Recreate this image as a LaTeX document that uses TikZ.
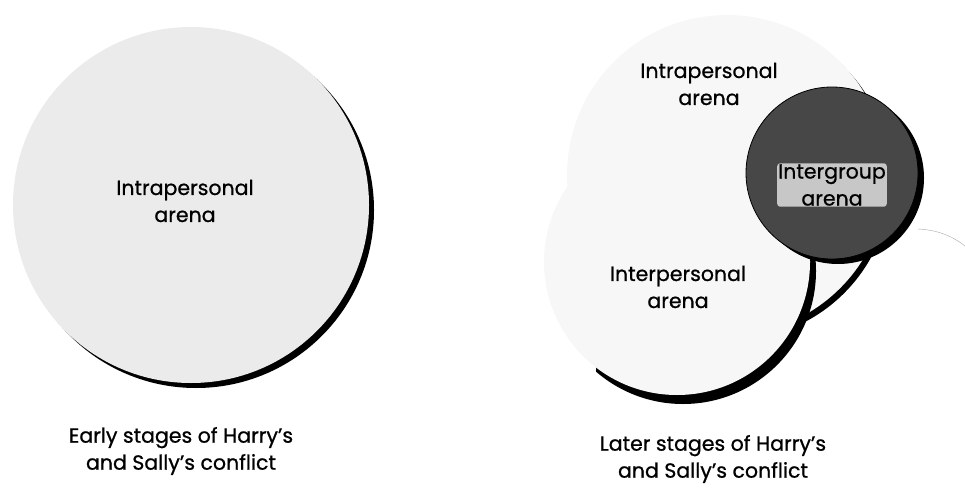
\documentclass[tikz,border=0pt]{standalone}
\usepackage{fontspec}
\setmainfont{Poppins}[FakeBold=0.8]
\usetikzlibrary{positioning}
\tikzset{
  arena/.style={fill=black!8},
  faint/.style={fill=black!3},
  dropshade/.style={fill=black},
  group/.style={fill=black!72, draw=black, thick},
  lbl/.style={align=center, inner sep=1pt, font=\fontsize{20.5}{27}\selectfont},
  grouplbl/.style={lbl, fill=black!22, rounded corners=3pt},
  caption/.style={align=center, inner sep=0pt, font=\fontsize{20.5}{27}\selectfont},
}

\begin{document}
\begin{tikzpicture}[x=1pt, y=-1pt]
\useasboundingbox (0,0) rectangle (965,495);

% early stages: one arena
\fill[dropshade] (196,210) circle (178pt);
\fill[arena] (191,205) circle (178pt);
\node[lbl] (intraA) at (185,201) {Intrapersonal\\arena};
\node[caption] (capA) at (181,451) {Early stages of Harry’s\\and Sally’s conflict};

% later stages: three arenas
\fill[dropshade] (731,180) circle (160pt);
\fill[faint] (727,175) circle (160pt);
\begin{scope}
  \clip (596,0) rectangle (965,495);
  \fill[dropshade] (683,271) circle (133pt);
\end{scope}
\fill[faint] (677,262) circle (133pt);
\fill[dropshade] (838,178) circle (86pt);
\filldraw[group] (832,173) circle (86pt);
\draw[black!35] (918,229) .. controls (938,230) and (952,236) .. (965,246);

\node[lbl] (intraB) at (709,84) {Intrapersonal\\arena};
\node[lbl] (interB) at (678,287) {Interpersonal\\arena};
\node[grouplbl] (groupB) at (832,185) {Intergroup\\arena};
\node[caption] (capB) at (713,459) {Later stages of Harry’s\\and Sally’s conflict};
\end{tikzpicture}
\end{document}
